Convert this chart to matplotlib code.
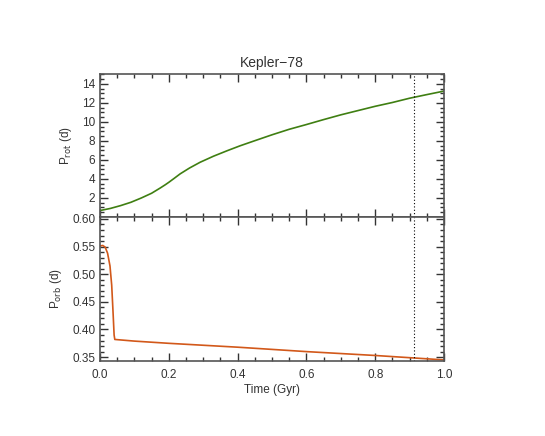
import matplotlib
matplotlib.use("Agg")
import matplotlib.pyplot as plt
from matplotlib.ticker import MultipleLocator, FormatStrFormatter

# rotation period of the star
t_rot = [0.0, 0.03, 0.06, 0.09, 0.12, 0.15, 0.175, 0.19, 0.20, 0.215, 0.233,
         0.26, 0.291, 0.33, 0.37, 0.407, 0.45, 0.50, 0.55, 0.60, 0.65, 0.70,
         0.75, 0.80, 0.85, 0.90, 0.95, 1.00]
P_rot = [0.68, 0.90, 1.20, 1.55, 2.00, 2.50, 3.05, 3.40, 3.65, 4.05, 4.54,
         5.15, 5.76, 6.40, 6.98, 7.49, 8.03, 8.65, 9.23, 9.73, 10.25, 10.75,
         11.20, 11.65, 12.05, 12.50, 12.88, 13.25]

# orbital period of the planet
t_orb = [0.0, 0.008, 0.015, 0.022, 0.029, 0.034, 0.038, 0.041, 0.043,
         0.10, 0.20, 0.40, 0.60, 0.80, 1.00]
P_orb = [0.551, 0.552, 0.549, 0.538, 0.515, 0.480, 0.430, 0.390, 0.382,
         0.379, 0.375, 0.368, 0.360, 0.353, 0.345]

t_now = 0.912   # age marker
gray = '#333333'

plt.rcParams['font.family'] = 'Liberation Sans'
plt.rcParams['font.size'] = 8.5

fig = plt.figure(figsize=(5.45, 4.36), dpi=100)
ax1 = fig.add_axes([0.1835, 0.5023, 0.6312, 0.3291])
ax2 = fig.add_axes([0.1835, 0.172, 0.6312, 0.3303])

ax1.plot(t_rot, P_rot, color='#3f7f12', lw=1.2)
ax2.plot(t_orb, P_orb, color='#d2581a', lw=1.2)
for ax in (ax1, ax2):
    ax.axvline(t_now, color='black', lw=0.8, ls=(0, (1, 2)))
    ax.set_xlim(0, 1.0)
    ax.xaxis.set_major_locator(MultipleLocator(0.2))
    ax.xaxis.set_minor_locator(MultipleLocator(0.05))
    ax.xaxis.set_major_formatter(FormatStrFormatter('%.1f'))
    ax.tick_params(which='both', direction='in', top=True, right=True,
                   colors=gray, labelcolor=gray, labelsize=8.5, width=1.0)
    ax.tick_params(which='major', length=6)
    ax.tick_params(which='minor', length=3)
    ax.tick_params(axis='x', pad=6)
    for s in ax.spines.values():
        s.set_color('#555555'); s.set_linewidth(1.2)

ax1.set_ylim(0, 15.1)
ax1.set_yticks([2, 4, 6, 8, 10, 12, 14])
ax1.yaxis.set_minor_locator(MultipleLocator(0.5))
ax1.tick_params(labelbottom=False)
ax1.set_ylabel('P$_{\\rm rot}$ (d)', color=gray, labelpad=6)
ax1.set_title('Kepler\u221278', color=gray, fontsize=10, pad=5)

ax2.set_ylim(0.343, 0.6035)
ax2.set_yticks([0.35, 0.40, 0.45, 0.50, 0.55, 0.60])
ax2.yaxis.set_major_formatter(FormatStrFormatter('%.2f'))
ax2.yaxis.set_minor_locator(MultipleLocator(0.01))
ax2.set_ylabel('P$_{\\rm orb}$ (d)', color=gray, labelpad=6)
ax2.set_xlabel('Time (Gyr)', color=gray, labelpad=2)

fig.savefig('out.png', dpi=100)
